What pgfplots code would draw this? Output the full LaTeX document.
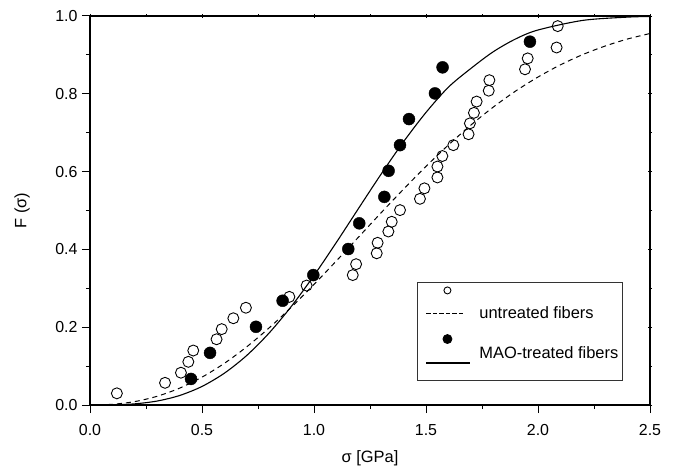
\documentclass[border=0pt]{standalone}
\usepackage{pgfplots}
\pgfplotsset{compat=1.18}
\usepackage{fontspec}
\setmainfont{Liberation Sans}

\pgfplotstableread{
x y
0.12 0.030
0.335 0.057
0.406 0.083
0.439 0.111
0.461 0.140
0.565 0.169
0.588 0.195
0.640 0.223
0.696 0.250
0.890 0.278
0.967 0.307
1.173 0.334
1.188 0.362
1.280 0.390
1.284 0.417
1.332 0.446
1.347 0.471
1.384 0.501
1.473 0.530
1.493 0.557
1.551 0.585
1.551 0.613
1.573 0.640
1.622 0.668
1.690 0.696
1.696 0.724
1.714 0.751
1.726 0.780
1.780 0.808
1.783 0.835
1.942 0.863
1.954 0.891
2.083 0.919
2.088 0.974
}\untreated

\pgfplotstableread{
x y
0.451 0.067
0.536 0.134
0.741 0.201
0.860 0.268
0.997 0.334
1.153 0.401
1.202 0.467
1.314 0.535
1.333 0.602
1.384 0.668
1.424 0.735
1.540 0.801
1.574 0.868
1.964 0.934
}\treated

\begin{document}
\begin{tikzpicture}
\begin{axis}[
    name=main,
    scale only axis,
    width=560bp, height=389bp,
    xmin=0, xmax=2.5, ymin=0, ymax=1.0,
    xtick={0,0.5,...,2.5}, ytick={0,0.2,...,1.0},
    minor x tick num=1, minor y tick num=1,
    xtick pos=bottom, ytick pos=left,
    tick align=outside,
    major tick length=8bp, minor tick length=4bp,
    every tick/.style={black, line width=1pt},
    axis line style={line width=1.2pt},
    /pgf/number format/fixed,
    /pgf/number format/fixed zerofill,
    /pgf/number format/precision=1,
    /pgf/number format/assume math mode=true,
    ticklabel style={font=\fontsize{16}{18}\selectfont},
    xticklabel style={yshift=-8bp},
    yticklabel style={xshift=-1bp},
    label style={font=\fontsize{16.5}{19}\selectfont},
    xlabel={σ [GPa]}, ylabel={F (σ)},
    xlabel style={at={(axis description cs:0.5,-0.138)}, anchor=center},
    ylabel style={at={(axis description cs:-0.1214,0.5)}, anchor=center},
    clip=false,
    legend style={at={(0.584,0.316)}, anchor=north west, draw=black!80, line width=0.8pt,
        font=\fontsize{16.5}{19}\selectfont, row sep=14bp,
        inner xsep=4bp, inner ysep=4bp,
        nodes={inner sep=0pt}},
    legend cell align=left,
]
\addlegendimage{legend image code/.code={
    \path[draw=none] (0bp,0bp) rectangle (58bp,1bp);
    \draw[black, line width=1pt, dash pattern=on 4.5bp off 2bp] (5bp,0bp) -- (43bp,0bp);
    \draw[black, line width=0.9pt] (26bp,23bp) circle (3.5bp);
}}
\addlegendentry{untreated fibers}
\addlegendimage{legend image code/.code={
    \path[draw=none] (0bp,-23bp) rectangle (58bp,0bp);
    \draw[black, line width=1.1pt] (5bp,-10bp) -- (49bp,-10bp);
    \fill[black] (26bp,14bp) circle (4.5bp);
}}
\addlegendentry{MAO-treated fibers}

% Weibull fit, untreated (dashed)
\addplot[black, line width=1pt, dash pattern=on 5bp off 4bp, smooth, forget plot] coordinates {
(0,0) (0.1,0.0018) (0.2,0.0088) (0.3,0.0225) (0.4,0.0433) (0.5,0.0716)
(0.6,0.1072) (0.7,0.1497) (0.8,0.1984) (0.9,0.2521) (1.0,0.3100)
(1.1,0.3705) (1.2,0.4324) (1.3,0.4944) (1.4,0.5550) (1.5,0.6134)
(1.6,0.6684) (1.7,0.7194) (1.8,0.7657) (1.9,0.8070) (2.0,0.8431)
(2.1,0.8744) (2.2,0.9009) (2.3,0.9228) (2.4,0.9409) (2.5,0.9550)
};
% Weibull fit, MAO-treated (solid)
\addplot[black, line width=1.1pt, smooth, forget plot] coordinates {
(0,0) (0.1,0.0004) (0.2,0.0030) (0.3,0.0102) (0.4,0.0244) (0.5,0.0477)
(0.6,0.0818) (0.7,0.1275) (0.8,0.1853) (0.9,0.2544) (1.0,0.3329)
(1.1,0.4181) (1.2,0.5064) (1.3,0.5939) (1.4,0.6770) (1.5,0.7521)
(1.6,0.8170) (1.7,0.8650) (1.8,0.9080) (1.9,0.9410) (2.0,0.9640)
(2.2,0.9887) (2.4,0.9971) (2.5,0.9987)
};
\addplot[only marks, mark=o, mark size=5.5bp, black, line width=0.9pt, forget plot] table {\untreated};
\addplot[only marks, mark=*, mark size=6bp, black, forget plot] table {\treated};
\end{axis}
% top and right axes: short centred ticks, no labels
\begin{axis}[
    scale only axis,
    width=560bp, height=389bp,
    xmin=0, xmax=2.5, ymin=0, ymax=1.0,
    xtick={0,0.5,...,2.5}, ytick={0,0.2,...,1.0},
    minor x tick num=1, minor y tick num=1,
    xtick pos=top, ytick pos=right,
    tick align=center,
    major tick length=4bp, minor tick length=3bp,
    every tick/.style={black, line width=0.8pt},
    axis line style={line width=1.2pt},
    xticklabels={}, yticklabels={},
]
\end{axis}
\pgfresetboundingbox
\path ([xshift=-90bp,yshift=-66bp]main.south west) rectangle ([xshift=26bp,yshift=16bp]main.north east);
\end{tikzpicture}
\end{document}
